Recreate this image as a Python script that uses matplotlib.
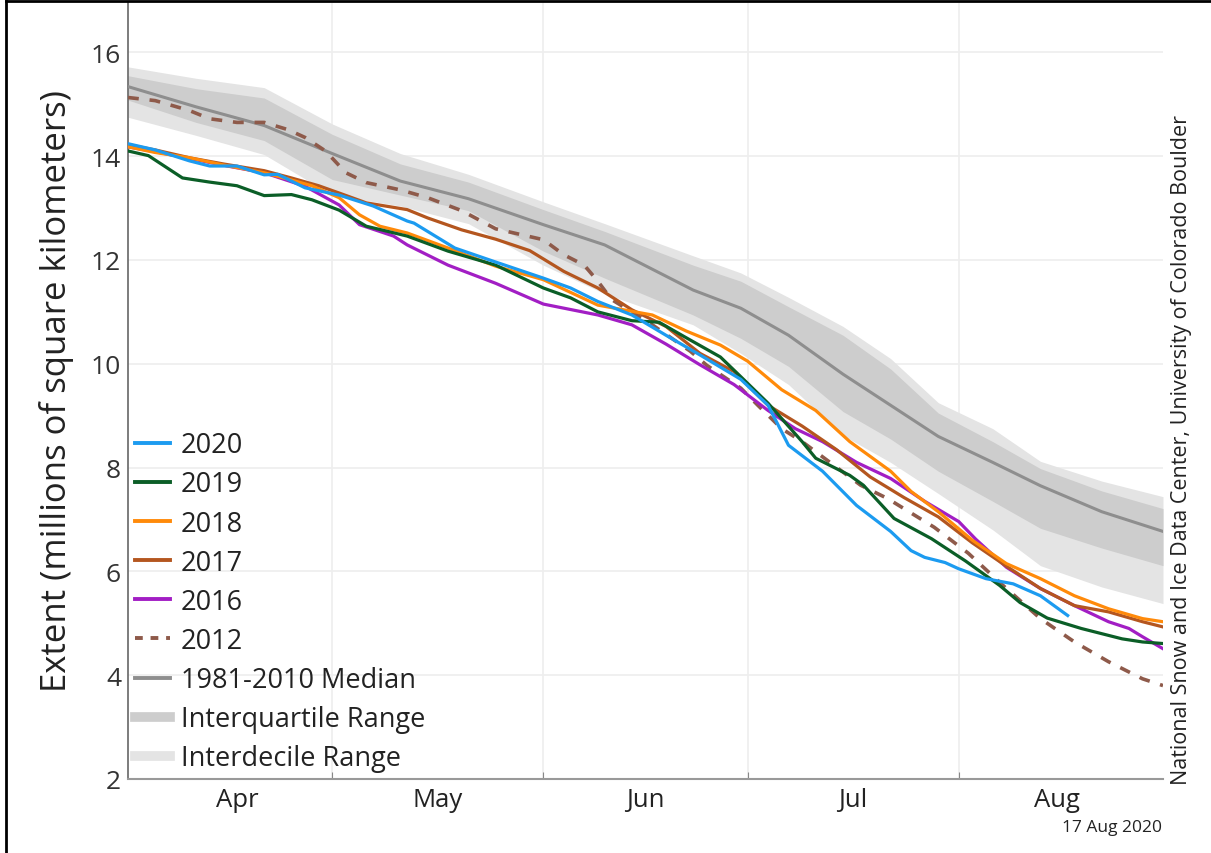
import matplotlib
matplotlib.use('Agg')
import matplotlib.pyplot as plt
from matplotlib.lines import Line2D

plt.rcParams['font.family'] = ['Open Sans', 'DejaVu Sans']

# days counted from 1 April
band_days = [0, 10, 20, 30, 40, 50, 61, 70, 83, 90, 97, 105, 112, 119, 127, 134, 143, 152]
median = [15.34, 14.95, 14.59, 14.05, 13.52, 13.18, 12.68, 12.29, 11.42, 11.07, 10.55, 9.8,
          9.2, 8.6, 8.1, 7.65, 7.15, 6.77]
p90 = [15.72, 15.5, 15.32, 14.62, 14.05, 13.65, 13.12, 12.7, 12.08, 11.75, 11.28, 10.72,
       10.1, 9.25, 8.75, 8.12, 7.74, 7.44]
p75 = [15.55, 15.3, 15.12, 14.42, 13.85, 13.5, 12.97, 12.55, 11.9, 11.59, 11.1, 10.55,
       9.9, 9.05, 8.5, 7.98, 7.55, 7.21]
p25 = [15.08, 14.65, 14.3, 13.55, 13.25, 12.95, 12.17, 11.65, 10.94, 10.49, 9.95, 9.08,
       8.55, 7.93, 7.35, 6.83, 6.45, 6.11]
p10 = [14.75, 14.4, 14.03, 13.25, 13.04, 12.7, 11.9, 11.35, 10.75, 10.2, 9.6, 8.62,
       8.1, 7.5, 6.8, 6.11, 5.7, 5.38]

d2020 = [0, 4, 9, 12, 16, 20, 22, 26, 31, 36, 41, 42, 48, 54, 61, 65, 69, 74, 79, 84, 90,
         94, 97, 102, 107, 112, 115, 117, 120, 122, 126, 130, 134, 138]
v2020 = [14.24, 14.12, 13.91, 13.81, 13.81, 13.64, 13.65, 13.39, 13.25, 13.04, 12.75, 12.71,
         12.23, 11.96, 11.65, 11.46, 11.2, 10.94, 10.55, 10.17, 9.7, 9.2, 8.43, 7.93,
         7.27, 6.77, 6.4, 6.27, 6.17, 6.05, 5.86, 5.76, 5.53, 5.15]

d2019 = [0, 3, 8, 12, 16, 20, 24, 27, 31, 35, 41, 47, 54, 61, 65, 69, 74, 78, 82, 87, 90,
         94, 99, 101, 106, 108, 112.5, 118, 123, 128, 131, 135, 140, 146, 149, 152]
v2019 = [14.1, 14.01, 13.58, 13.5, 13.43, 13.24, 13.26, 13.16, 12.96, 12.65, 12.46, 12.17,
         11.9, 11.46, 11.27, 11.0, 10.83, 10.8, 10.5, 10.13, 9.75, 9.24, 8.5, 8.18, 7.85,
         7.66, 7.02, 6.63, 6.2, 5.73, 5.4, 5.1, 4.9, 4.7, 4.64, 4.61]

d2018 = [0, 4, 9, 14, 20, 24, 27, 31, 34, 37, 41, 47, 54, 61, 69, 77, 82, 87, 91, 96, 101,
         106, 112, 115, 119, 124, 129, 134, 139, 144, 149, 152]
v2018 = [14.18, 14.07, 13.97, 13.83, 13.68, 13.54, 13.43, 13.2, 12.87, 12.65, 12.52, 12.23,
         11.88, 11.62, 11.13, 10.94, 10.63, 10.36, 10.05, 9.5, 9.1, 8.5, 7.93, 7.54, 7.15,
         6.6, 6.15, 5.86, 5.53, 5.28, 5.09, 5.03]

d2017 = [0, 4, 9, 14, 20, 24, 28, 31, 35, 41, 44, 49, 54, 59, 64, 69, 74, 79, 84, 89, 94,
         99, 104, 109, 114, 119, 124, 129, 134, 139, 144, 149, 152]
v2017 = [14.22, 14.12, 13.97, 13.85, 13.72, 13.58, 13.43, 13.29, 13.1, 12.97, 12.81, 12.58,
         12.4, 12.18, 11.78, 11.46, 11.04, 10.72, 10.2, 9.85, 9.2, 8.8, 8.35, 7.82, 7.42,
         7.05, 6.55, 6.1, 5.67, 5.34, 5.22, 5.03, 4.93]

d2016 = [0, 5, 10, 15, 20, 26, 31, 34, 39, 41, 47, 54, 61, 69, 74, 79, 84, 89, 94, 98, 102,
         107, 112, 117, 122, 124.5, 129, 134, 139, 144, 147, 149, 152]
v2016 = [14.18, 14.06, 13.93, 13.8, 13.68, 13.42, 13.06, 12.68, 12.46, 12.29, 11.9, 11.55,
         11.15, 10.94, 10.75, 10.38, 9.98, 9.6, 9.1, 8.75, 8.5, 8.1, 7.79, 7.35, 6.96,
         6.62, 6.08, 5.67, 5.34, 5.03, 4.9, 4.74, 4.51]

d2012 = [0, 4, 9, 12, 16, 20, 23.5, 26, 29, 32, 35, 40, 44, 49, 54, 59, 61, 64, 67, 69, 71,
         77, 82.6, 85, 90, 92.5, 96, 99, 107.6, 111.6, 118.4, 123.4, 128.5, 134, 139, 144,
         149, 152]
v2012 = [15.13, 15.07, 14.88, 14.72, 14.65, 14.65, 14.51, 14.36, 14.1, 13.68, 13.49, 13.35,
         13.2, 12.95, 12.6, 12.45, 12.39, 12.1, 11.9, 11.59, 11.24, 10.75, 10.24, 9.97,
         9.53, 9.2, 8.75, 8.5, 7.66, 7.4, 6.85, 6.35, 5.73, 5.09, 4.64, 4.26, 3.93, 3.8]

month_starts = [30, 61, 91, 122]
month_mids = [16, 45.5, 76, 106.5, 136.5]
month_names = ['Apr', 'May', 'Jun', 'Jul', 'Aug']

fig = plt.figure(figsize=(12.11, 8.54), dpi=100)
ax = fig.add_axes([128 / 1211, 74 / 854, 1035 / 1211, 777 / 854])

ax.fill_between(band_days, p10, p90, color='#e4e4e4', lw=0, zorder=1)
ax.fill_between(band_days, p25, p75, color='#cdcdcd', lw=0, zorder=2)
ax.plot(band_days, median, color='#8e8e8e', lw=2.2, zorder=3)

ax.plot(d2012, v2012, color='#8e5a4a', lw=2.6, ls=(0, (3, 3)), zorder=4)
ax.plot(d2016, v2016, color='#a21ec4', lw=2.3, zorder=5)
ax.plot(d2017, v2017, color='#b4561f', lw=2.3, zorder=6)
ax.plot(d2018, v2018, color='#ff8a0a', lw=2.3, zorder=7)
ax.plot(d2019, v2019, color='#0b5e27', lw=2.3, zorder=8)
ax.plot(d2020, v2020, color='#1c9bf0', lw=2.3, zorder=9)

ax.set_xlim(0, 152)
ax.set_ylim(2, 16.97)
ax.set_yticks(range(2, 17, 2))
ax.set_xticks(month_starts)
ax.set_xticklabels([])
ax.set_xticks(month_mids, minor=True)
ax.set_xticklabels(month_names, minor=True)
ax.tick_params(axis='x', which='major', direction='in', length=5, color='#888888')
ax.tick_params(axis='x', which='minor', length=0, labelsize=18.5, pad=6, labelcolor='#222222')
ax.tick_params(axis='y', length=0, labelsize=19, pad=5, labelcolor='#333333')
ax.grid(True, which='major', color='#eeeeee', lw=1.2, zorder=0)
ax.set_axisbelow(True)
for s in ['top', 'right']:
    ax.spines[s].set_visible(False)
ax.spines['left'].set_color('#666666')
ax.spines['bottom'].set_color('#999999')
ax.spines['left'].set_linewidth(1.2)
ax.spines['bottom'].set_linewidth(1.5)

ax.set_ylabel('Extent (millions of square kilometers)', fontsize=25, labelpad=12,
              color='#222222')

handles = [
    Line2D([], [], color='#1c9bf0', lw=2.8),
    Line2D([], [], color='#0b5e27', lw=2.8),
    Line2D([], [], color='#ff8a0a', lw=2.8),
    Line2D([], [], color='#b4561f', lw=2.8),
    Line2D([], [], color='#a21ec4', lw=2.8),
    Line2D([], [], color='#8e5a4a', lw=2.8, ls=(0, (2, 2))),
    Line2D([], [], color='#8e8e8e', lw=2.8),
    Line2D([], [], color='#cdcdcd', lw=7),
    Line2D([], [], color='#e4e4e4', lw=7),
]
labels = ['2020', '2019', '2018', '2017', '2016', '2012', '1981-2010 Median',
          'Interquartile Range', 'Interdecile Range']
leg = ax.legend(handles, labels, loc='lower left', bbox_to_anchor=(0.0, 0.0),
                frameon=False, fontsize=19.5, handlelength=1.3, handletextpad=0.4,
                labelspacing=0.41, borderaxespad=0.1, borderpad=0.15)
for t in leg.get_texts():
    t.set_color('#222222')

fig.text(1181 / 1211, 1 - 450 / 854, 'National Snow and Ice Data Center, University of Colorado Boulder',
         rotation=90, ha='center', va='center', fontsize=15.5, color='#222222')
fig.text(1162 / 1211, 1 - 828 / 854, '17 Aug 2020', ha='right', va='center',
         fontsize=12.5, color='#222222')

# frame lines on the top and left of the picture
fig.add_artist(Line2D([6 / 1211, 6 / 1211], [0, 1 - 2 / 854], color='black', lw=2))
fig.add_artist(Line2D([6 / 1211, 1], [1 - 2 / 854, 1 - 2 / 854], color='black', lw=2))

fig.savefig('out.png', dpi=100)
